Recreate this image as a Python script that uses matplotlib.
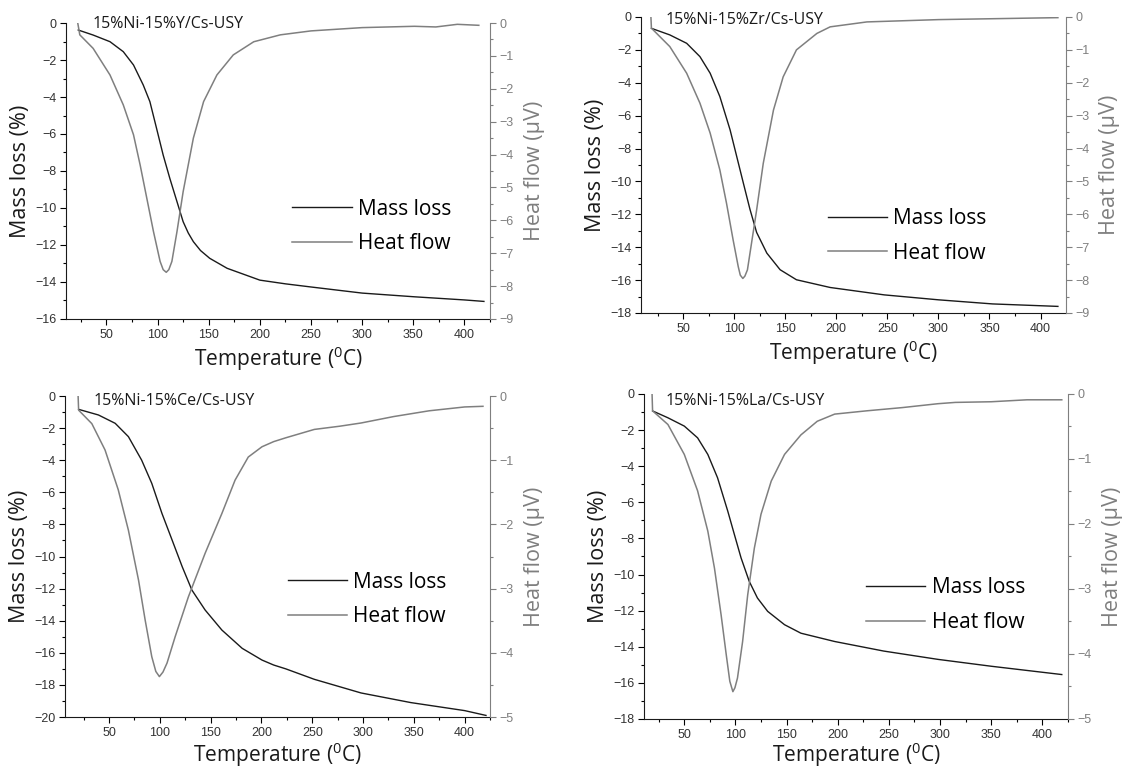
import matplotlib
matplotlib.use('Agg')
import matplotlib.pyplot as plt
from matplotlib.ticker import MultipleLocator
from matplotlib.lines import Line2D

plt.rcParams['font.family'] = ['Open Sans', 'DejaVu Sans']
plt.rcParams['mathtext.fontset'] = 'custom'
plt.rcParams['mathtext.rm'] = 'Open Sans'
plt.rcParams['mathtext.default'] = 'rm'

# ---------------- data ----------------
titles = ['15%Ni-15%Y/Cs-USY', '15%Ni-15%Zr/Cs-USY',
          '15%Ni-15%Ce/Cs-USY', '15%Ni-15%La/Cs-USY']

# 15%Ni-15%Y/Cs-USY
t_mass_Y = [22.5, 37, 53.5, 66.5, 76.5, 86, 92.5, 99, 105.5, 112, 119, 125, 130, 135, 142, 151, 168, 200, 225, 250, 300, 351, 400, 419]
mass_Y = [-0.38, -0.65, -1.01, -1.55, -2.27, -3.35, -4.25, -5.69, -7.14, -8.4, -9.66, -10.74, -11.35, -11.82, -12.3, -12.72, -13.26, -13.9, -14.1, -14.27, -14.6, -14.8, -14.97, -15.05]
t_heat_Y = [22, 24, 37, 53.5, 66.5, 76.5, 83, 89.5, 96, 102.5, 105.5, 108.5, 111, 114, 119, 125, 135, 145, 158, 174, 194, 220, 250, 300, 351, 372, 393, 414]
heat_Y = [0.0, -0.36, -0.77, -1.58, -2.49, -3.4, -4.32, -5.33, -6.34, -7.25, -7.5, -7.58, -7.5, -7.25, -6.34, -5.13, -3.5, -2.39, -1.58, -0.97, -0.57, -0.36, -0.24, -0.14, -0.1, -0.12, -0.04, -0.07]

# 15%Ni-15%Zr/Cs-USY
t_mass_Zr = [19, 37, 53.5, 66.5, 76.5, 86, 96, 102.5, 109, 115.5, 122, 132, 145, 161, 194, 247, 300, 353, 417]
mass_Zr = [-0.69, -1.09, -1.6, -2.41, -3.42, -4.84, -6.86, -8.48, -10.1, -11.7, -13.1, -14.36, -15.37, -15.98, -16.45, -16.9, -17.2, -17.45, -17.6]
t_heat_Zr = [18.5, 19, 37, 53.5, 66.5, 76.5, 86, 92.5, 99, 104, 106, 108.5, 110.5, 113, 117, 122, 128.5, 138.5, 148, 161, 181, 194, 230, 300, 417]
heat_Zr = [0.0, -0.34, -0.9, -1.71, -2.62, -3.53, -4.65, -5.66, -6.78, -7.59, -7.85, -7.95, -7.88, -7.69, -6.88, -5.87, -4.45, -2.83, -1.82, -1.0, -0.5, -0.3, -0.15, -0.08, -0.02]

# 15%Ni-15%Ce/Cs-USY
t_mass_Ce = [20, 39.5, 56, 69, 82, 92, 102, 112, 122, 131.5, 144.5, 161, 181, 200.5, 212, 224, 252, 298, 347, 400, 421]
mass_Ce = [-0.83, -1.18, -1.7, -2.53, -3.99, -5.44, -7.31, -8.97, -10.64, -12.09, -13.33, -14.58, -15.72, -16.45, -16.76, -17.0, -17.65, -18.5, -19.1, -19.6, -19.9]
t_heat_Ce = [19.5, 20, 33, 46, 59, 69, 79, 85.5, 92, 96, 99.5, 103, 107, 115, 128, 144.5, 161, 174, 187, 200.5, 212, 224, 252, 277, 298, 330, 365, 400, 418]
heat_Ce = [0.0, -0.22, -0.43, -0.84, -1.46, -2.09, -2.87, -3.49, -4.06, -4.29, -4.37, -4.3, -4.16, -3.75, -3.13, -2.45, -1.83, -1.31, -0.95, -0.79, -0.71, -0.65, -0.52, -0.47, -0.42, -0.32, -0.23, -0.17, -0.16]

# 15%Ni-15%La/Cs-USY
t_mass_La = [19, 34, 50, 63, 73, 82.5, 92.5, 99, 105.5, 113.5, 121.5, 131.5, 148, 164, 197, 245, 298, 350, 419]
mass_La = [-0.94, -1.32, -1.78, -2.43, -3.35, -4.64, -6.49, -7.79, -9.08, -10.38, -11.3, -12.04, -12.78, -13.25, -13.71, -14.24, -14.7, -15.08, -15.54]
t_heat_La = [18.5, 19, 34, 50, 63, 73, 79.5, 86, 91, 94.5, 97.5, 99.5, 102, 107, 112, 118.5, 125, 135, 148, 164, 180, 197, 228, 263, 298, 315, 350, 385, 419]
heat_La = [0.0, -0.26, -0.47, -0.93, -1.49, -2.11, -2.68, -3.4, -4.01, -4.42, -4.58, -4.52, -4.37, -3.81, -3.09, -2.37, -1.85, -1.34, -0.93, -0.63, -0.42, -0.31, -0.26, -0.21, -0.15, -0.13, -0.12, -0.09, -0.09]

# ---------------- layout ----------------
panels = [
    dict(rect=[0.0588, 0.5868, 0.3772, 0.3834], xlim=(10.6, 425), ylim=(-16, 0), y2lim=(-9, 0),
         tm=t_mass_Y, m=mass_Y, th=t_heat_Y, h=heat_Y, leg=(0.534, 0.3125), tx=(0.063, 0.995), xpad=3),
    dict(rect=[0.5702, 0.5946, 0.3779, 0.3834], xlim=(8.7, 424.6), ylim=(-18, 0), y2lim=(-9, 0),
         tm=t_mass_Zr, m=mass_Zr, th=t_heat_Zr, h=heat_Zr, leg=(0.440, 0.26), tx=(0.058, 0.99), xpad=3),
    dict(rect=[0.0582, 0.0712, 0.3778, 0.4158], xlim=(7, 425), ylim=(-20, 0), y2lim=(-5, 0),
         tm=t_mass_Ce, m=mass_Ce, th=t_heat_Ce, h=heat_Ce, leg=(0.523, 0.366), tx=(0.066, 0.985), xpad=1),
    dict(rect=[0.5733, 0.0687, 0.3768, 0.4210], xlim=(11, 425), ylim=(-18, 0), y2lim=(-5, 0),
         tm=t_mass_La, m=mass_La, th=t_heat_La, h=heat_La, leg=(0.523, 0.35), tx=(0.05, 0.978), xpad=0),
]

BLACK = '#1a1a1a'
GRAY = '#7f7f7f'
LBL = '#333333'
TICKFONT = ['Liberation Sans', 'DejaVu Sans']

fig = plt.figure(figsize=(11.24, 7.72), dpi=100)

for p, title in zip(panels, titles):
    ax = fig.add_axes(p['rect'])
    ax2 = ax.twinx()
    ax.plot(p['tm'], p['m'], color=BLACK, lw=1.0)
    ax2.plot(p['th'], p['h'], color=GRAY, lw=1.1)
    ax.set_xlim(*p['xlim'])
    ax.set_ylim(*p['ylim'])
    ax2.set_ylim(*p['y2lim'])

    ax.xaxis.set_major_locator(MultipleLocator(50))
    ax.xaxis.set_minor_locator(MultipleLocator(25))
    ax.yaxis.set_major_locator(MultipleLocator(2))
    ax.yaxis.set_minor_locator(MultipleLocator(1))
    ax2.yaxis.set_major_locator(MultipleLocator(1))
    ax2.yaxis.set_minor_locator(MultipleLocator(0.5))

    for a in (ax, ax2):
        a.spines['top'].set_visible(False)
    ax.spines['right'].set_visible(False)
    ax2.spines['left'].set_visible(False)
    ax2.spines['bottom'].set_visible(False)
    ax2.spines['right'].set_color(GRAY)
    ax.spines['left'].set_color(BLACK)
    ax.spines['bottom'].set_color(BLACK)

    ax.tick_params(axis='both', which='major', direction='out', length=4, width=0.8,
                   labelsize=9, labelcolor=LBL, pad=3)
    ax.tick_params(axis='both', which='minor', direction='out', length=2, width=0.8)
    ax2.tick_params(axis='y', which='major', direction='out', length=4, width=0.8,
                    labelsize=9, labelcolor=GRAY, color=GRAY, pad=3)
    ax2.tick_params(axis='y', which='minor', direction='out', length=2, width=0.8, color=GRAY)
    for lab in ax.get_xticklabels() + ax.get_yticklabels() + ax2.get_yticklabels():
        lab.set_family(TICKFONT)

    ax.set_xlabel('Temperature ($^0$C)', fontsize=15, color=BLACK, labelpad=p['xpad'])
    ax.set_ylabel('Mass loss (%)', fontsize=15.5, color=BLACK, labelpad=3)
    ax2.set_ylabel('Heat flow (\u03bcV)', fontsize=15.5, color=GRAY, labelpad=7)

    ax.text(p['tx'][0], p['tx'][1], title, transform=ax.transAxes, fontsize=11.5,
            color=BLACK, ha='left', va='center')

    handles = [Line2D([], [], color=BLACK, lw=1.0), Line2D([], [], color=GRAY, lw=1.1)]
    ax.legend(handles, ['Mass loss', 'Heat flow'], loc='center left',
              bbox_to_anchor=p['leg'], frameon=False, fontsize=15,
              handlelength=2.85, handletextpad=0.3, borderpad=0, borderaxespad=0,
              labelspacing=0.65)

fig.savefig('out.png', dpi=100)
